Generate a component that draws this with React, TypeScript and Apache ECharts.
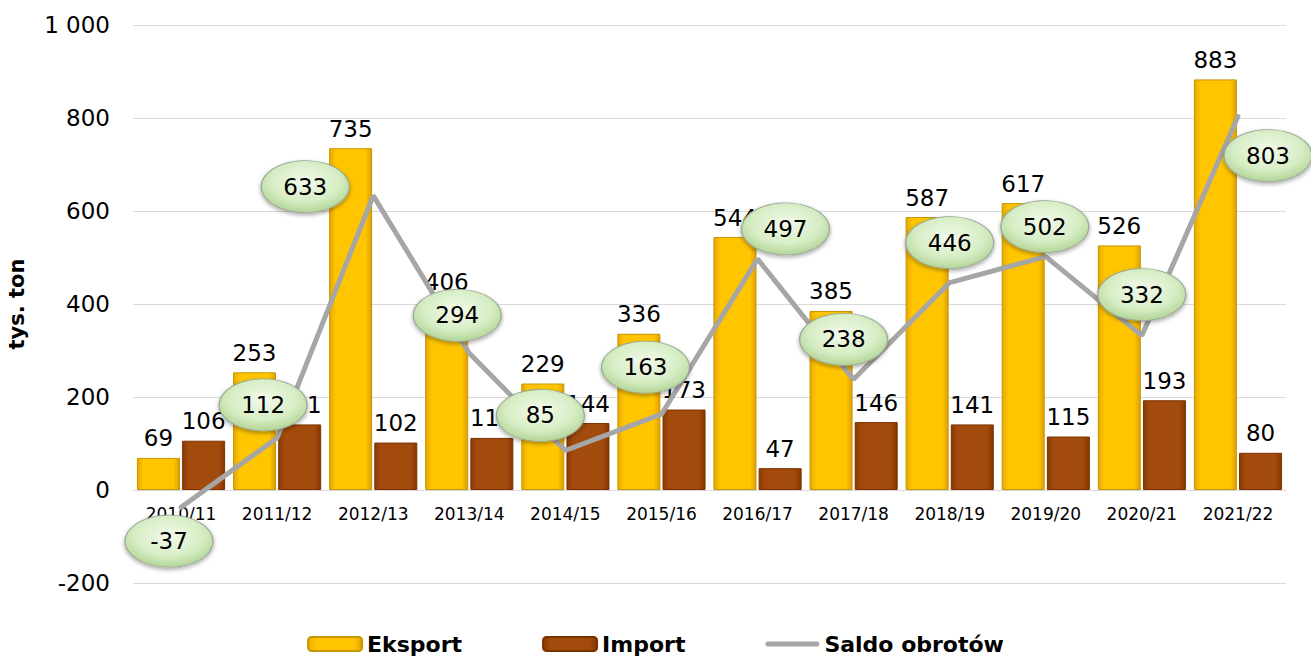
import React, { useEffect, useRef } from "react";
import * as echarts from "echarts";

const categories = ["2010/11", "2011/12", "2012/13", "2013/14", "2014/15", "2015/16", "2016/17", "2017/18", "2018/19", "2019/20", "2020/21", "2021/22"];
const eksport = [69, 253, 735, 406, 229, 336, 544, 385, 587, 617, 526, 883];
const importVals = [106, 141, 102, 112, 144, 173, 47, 146, 141, 115, 193, 80];
const saldo = [-37, 112, 633, 294, 85, 163, 497, 238, 446, 502, 332, 803];
const yTicks = { min: -200, max: 1000, interval: 200 };

// label bubble offsets (styling, pixels)
const bubbleOffsets: [number, number][] = [
  [-12, 34], [-14, -33], [-68, -9], [-12, -38], [-25, -35], [-16, -47],
  [28, -30], [-10, -40], [0, -40], [-1, -30], [0, -41], [30, 39],
];

const FONT = "DejaVu Sans";

export default function App() {
  const ref = useRef<HTMLDivElement>(null);
  useEffect(() => {
    document.body.style.margin = "0";
    const chart = echarts.init(ref.current!, null, { renderer: "svg" });
    const eksportColor = new echarts.graphic.LinearGradient(0, 0, 1, 0, [
      { offset: 0, color: "#E8A800" },
      { offset: 0.15, color: "#FFC600" },
      { offset: 0.85, color: "#FFC600" },
      { offset: 1, color: "#DDA000" },
    ]);
    const importColor = new echarts.graphic.LinearGradient(0, 0, 1, 0, [
      { offset: 0, color: "#8A3A04" },
      { offset: 0.15, color: "#A34B0C" },
      { offset: 0.85, color: "#A34B0C" },
      { offset: 1, color: "#843603" },
    ]);
    const bubbleColor = new echarts.graphic.RadialGradient(0.5, 0.4, 0.65, [
      { offset: 0, color: "#F3FAEC" },
      { offset: 0.6, color: "#D6EDC4" },
      { offset: 1, color: "#A9CF8C" },
    ]);
    const barLabel = {
      show: true,
      position: "top" as const,
      distance: 8,
      fontSize: 23,
      fontFamily: FONT,
      color: "#000",
    };
    chart.setOption({
      animation: false,
      textStyle: { fontFamily: FONT },
      grid: { left: 133, right: 25, top: 25, bottom: 75, containLabel: false, outerBoundsMode: "none" },
      legend: {
        data: [
          { name: "Eksport" },
          { name: "Import" },
          {
            name: "Saldo obrotów",
            icon: "path://M3,0 L60,0 A3,3 0 0 1 60,6 L3,6 A3,3 0 0 1 3,0 Z",
            itemStyle: { color: "#A6A6A6" },
          },
        ],
        symbolKeepAspect: true,
        top: 633,
        left: "center",
        padding: 0,
        itemWidth: 54,
        itemHeight: 14,
        itemGap: 80,
        textStyle: { fontSize: 22, fontWeight: "bold", color: "#000", fontFamily: FONT },
      },
      xAxis: {
        type: "category",
        data: categories,
        offset: -93,
        axisLine: { onZero: false, lineStyle: { color: "#D9D9D9", width: 1 } },
        axisTick: { show: false },
        axisLabel: { fontSize: 17, color: "#000", margin: 15, fontFamily: FONT, interval: 0 },
      },
      yAxis: {
        type: "value",
        min: yTicks.min,
        max: yTicks.max,
        interval: yTicks.interval,
        name: "tys. ton",
        nameLocation: "middle",
        nameGap: 106,
        nameTextStyle: { fontSize: 21, fontWeight: "bold", color: "#000", fontFamily: FONT },
        axisLine: { show: false },
        axisTick: { show: false },
        splitLine: { lineStyle: { color: "#D9D9D9", width: 1 } },
        axisLabel: {
          fontSize: 23,
          color: "#000",
          margin: 23,
          fontFamily: FONT,
          formatter: (v: number) => String(v).replace(/\B(?=(\d{3})+(?!\d))/g, " "),
        },
      },
      series: [
        {
          name: "Eksport",
          type: "bar",
          data: eksport,
          barWidth: 43,
          barGap: "5%",
          itemStyle: { color: eksportColor, borderColor: "#C79500", borderWidth: 1 },
          label: barLabel,
          z: 2,
        },
        {
          name: "Import",
          type: "bar",
          data: importVals,
          barWidth: 43,
          itemStyle: { color: importColor, borderColor: "#7A3200", borderWidth: 1 },
          label: barLabel,
          z: 2,
        },
        {
          name: "Saldo obrotów",
          type: "line",
          data: saldo,
          symbol: "none",
          lineStyle: { color: "#A6A6A6", width: 5, cap: "round" },
          itemStyle: { color: "#A6A6A6" },
          z: 5,
        },
        {
          name: "saldoLabels",
          type: "scatter",
          data: saldo.map((v, i) => ({
            value: v,
            symbolOffset: bubbleOffsets[i],
          })),
          symbol: "circle",
          symbolSize: [88, 52],
          itemStyle: {
            color: bubbleColor,
            opacity: 1,
            borderColor: "#9CA897",
            borderWidth: 1,
            shadowBlur: 4,
            shadowColor: "rgba(0,0,0,0.35)",
            shadowOffsetY: 2,
          },
          label: {
            show: true,
            position: "inside",
            fontSize: 23,
            color: "#000",
            fontFamily: FONT,
            formatter: (p: any) => String(p.value),
          },
          emphasis: { disabled: true },
          z: 10,
        },
      ],
    });
    return () => chart.dispose();
  }, []);
  return <div ref={ref} style={{ width: 1311, height: 658 }} />;
}
